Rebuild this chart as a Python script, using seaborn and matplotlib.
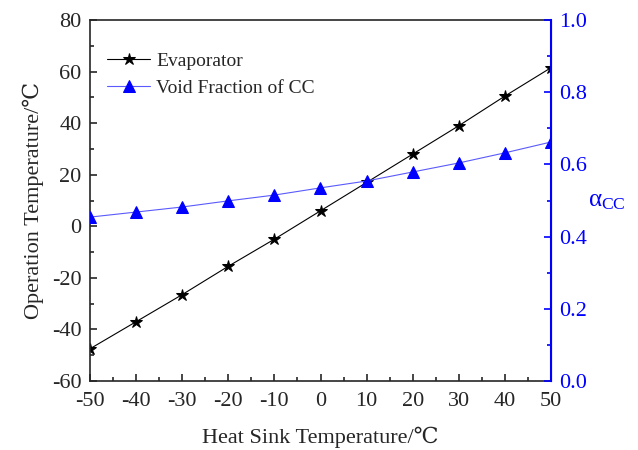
import matplotlib
matplotlib.use("Agg")
import matplotlib.pyplot as plt
import seaborn as sns
import pandas as pd
from matplotlib.ticker import MultipleLocator, FormatStrFormatter

sink_temp = [-50, -40, -30, -20, -10, 0, 10, 20, 30, 40, 50]
evaporator = [-47.5, -37, -26.5, -15.5, -5, 6, 17, 28, 39, 50.5, 61.5]
void_fraction = [0.454, 0.468, 0.482, 0.499, 0.515, 0.535, 0.554, 0.579, 0.604, 0.632, 0.662]

sns.set_style("ticks")
plt.rcParams['font.family'] = ['Liberation Serif', 'DejaVu Serif']
plt.rcParams['axes.unicode_minus'] = False
plt.rcParams['mathtext.fontset'] = 'custom'
plt.rcParams['mathtext.rm'] = 'Liberation Serif'
plt.rcParams['mathtext.it'] = 'Liberation Serif'

df = pd.DataFrame({"T": sink_temp, "Evap": evaporator, "Void": void_fraction})

fig = plt.figure(figsize=(6.38, 4.5), dpi=100)
ax = fig.add_axes([90/638, 1-381/450, (551-90)/638, (381-20)/450])
ax2 = ax.twinx()

sns.lineplot(data=df, x="T", y="Evap", ax=ax, color="black", marker="*", markersize=9,
             linewidth=0.8, markeredgecolor="black", label="Evaporator", legend=False)
sns.lineplot(data=df, x="T", y="Void", ax=ax2, color="#5a5aff", marker="^", markersize=9,
             linewidth=0.8, markerfacecolor="blue", markeredgecolor="blue",
             label="Void Fraction of CC", legend=False)

ax.set_xlim(-50, 50)
ax.set_ylim(-60, 80)
ax2.set_ylim(0, 1.0)
ax.xaxis.set_major_locator(MultipleLocator(10))
ax.xaxis.set_minor_locator(MultipleLocator(5))
ax.yaxis.set_major_locator(MultipleLocator(20))
ax.yaxis.set_minor_locator(MultipleLocator(10))
ax2.yaxis.set_major_locator(MultipleLocator(0.2))
ax2.yaxis.set_minor_locator(MultipleLocator(0.1))
ax2.yaxis.set_major_formatter(FormatStrFormatter('%.1f'))

ax.tick_params(which='both', direction='in', labelsize=16, width=1.2)
ax.tick_params(which='major', length=5)
ax.tick_params(which='minor', length=3)
ax.tick_params(axis='x', which='major', pad=8)
ax.tick_params(axis='y', which='major', pad=6)
ax.tick_params(axis='x', which='both', top=False)
ax2.tick_params(which='both', direction='in', labelsize=16, colors='blue', width=1.2)
ax2.tick_params(which='major', length=5, pad=6)
ax2.tick_params(which='minor', length=3)

for s in ['left', 'bottom', 'top']:
    ax.spines[s].set_linewidth(1.2)
ax2.spines['right'].set_color('blue')
ax2.spines['right'].set_linewidth(1.5)
for s in ['left', 'bottom', 'top']:
    ax2.spines[s].set_visible(False)

ax.set_xlabel("Heat Sink Temperature/\u2103", fontsize=16, labelpad=11)
ax.set_ylabel("Operation Temperature/\u2103", fontsize=16, labelpad=6)
ax2.set_ylabel(r"$\mathrm{\alpha}_{\mathrm{CC}}$", fontsize=18, color='blue', rotation=0,
               labelpad=14, va='center')

h1, l1 = ax.get_legend_handles_labels()
h2, l2 = ax2.get_legend_handles_labels()
ax.legend(h1 + h2, l1 + l2, loc='upper left', frameon=False, fontsize=14,
          bbox_to_anchor=(0.0, 0.96), handlelength=2.2, handletextpad=0.3, labelspacing=0.5)

fig.savefig("out.png", dpi=100)
